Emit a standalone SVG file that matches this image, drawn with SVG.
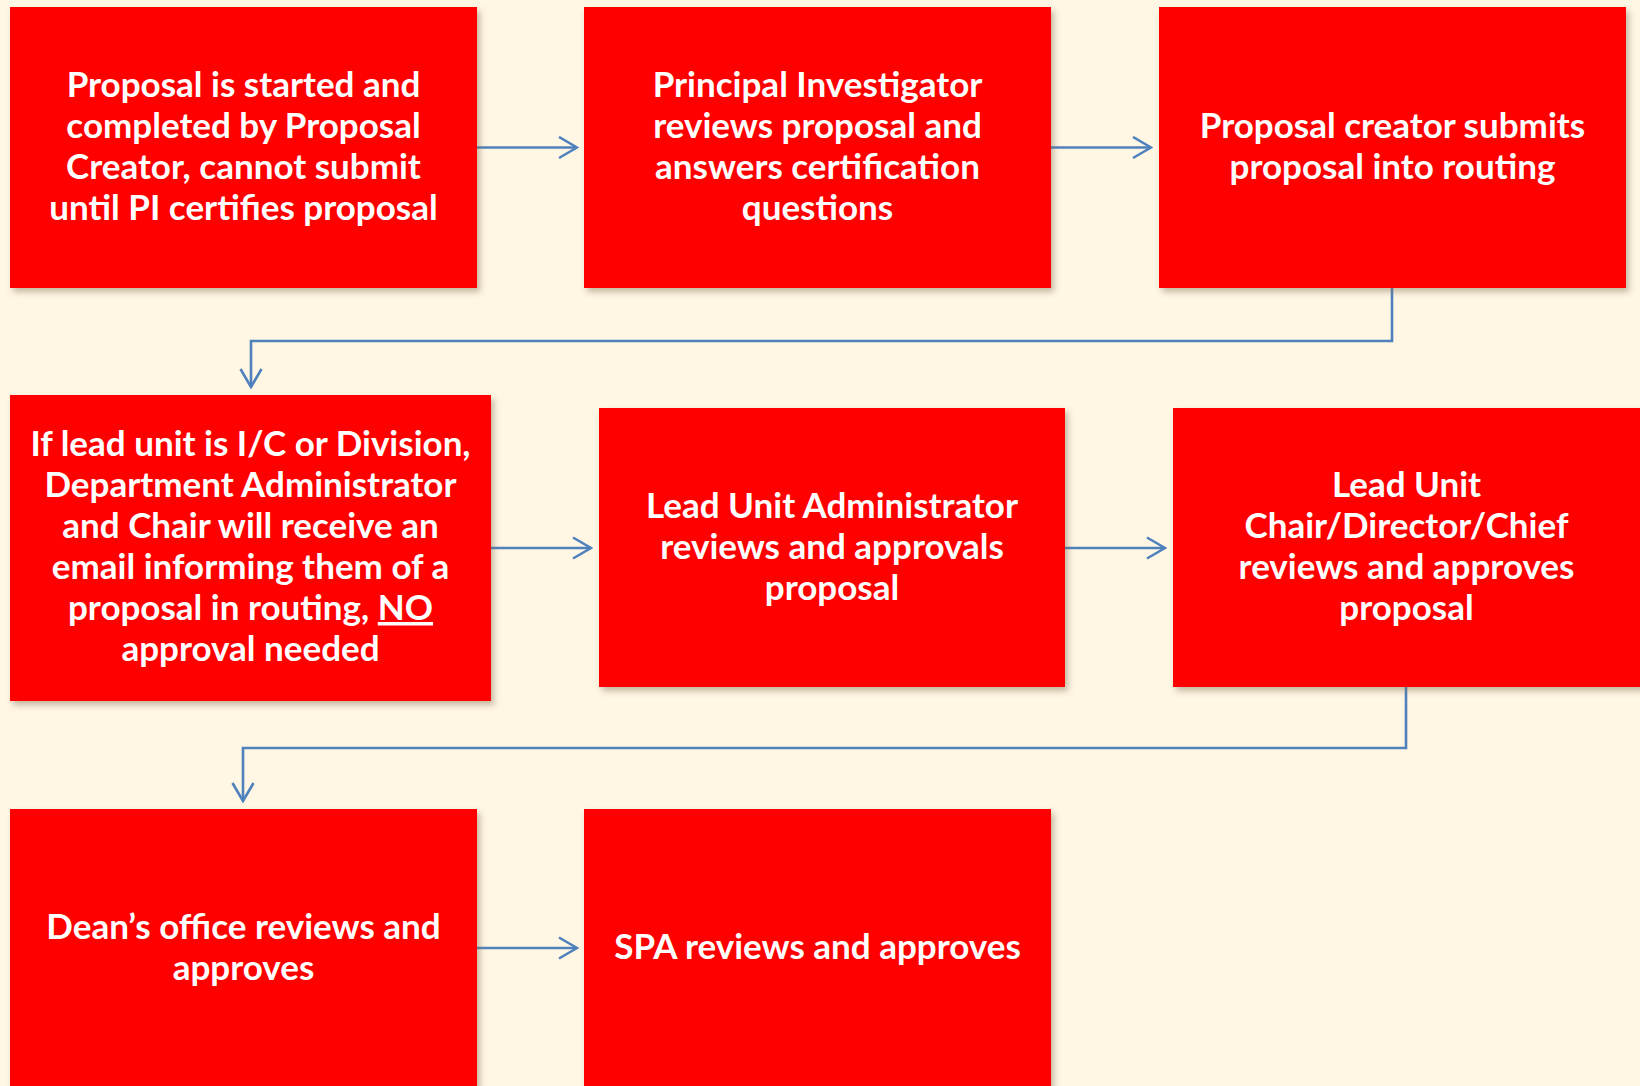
<svg xmlns="http://www.w3.org/2000/svg" width="1640" height="1086" viewBox="0 0 1640 1086">
<defs>
<filter id="sh" x="-5%" y="-5%" width="115%" height="120%">
<feDropShadow dx="3" dy="4" stdDeviation="3" flood-color="#7a6a50" flood-opacity="0.45"/>
</filter>
<marker id="ah" viewBox="0 0 22 24" refX="20" refY="12" markerWidth="22" markerHeight="24" markerUnits="userSpaceOnUse" orient="auto">
<path d="M2,1.5 L20,12 L2,22.5" fill="none" stroke="#4F81BD" stroke-width="2.6" stroke-linejoin="miter"/>
</marker>
</defs>
<style>
.box{fill:#FF0000;filter:url(#sh);}
.t{font-family:Lato,"Open Sans","Liberation Sans",sans-serif;font-weight:bold;font-size:35px;fill:#FFFFFF;text-anchor:middle;}
.c{fill:none;stroke:#4F81BD;stroke-width:2.6;marker-end:url(#ah);}
</style>
<rect width="1640" height="1086" fill="#FFF6E4"/>
<g id="connectors">
<path class="c" d="M477,147.5 H577"/>
<path class="c" d="M1051,147.5 H1151"/>
<path class="c" d="M1392,288 V341 H251 V387"/>
<path class="c" d="M491,548 H591"/>
<path class="c" d="M1065,548 H1165"/>
<path class="c" d="M1406,687 V748 H243 V801"/>
<path class="c" d="M477,948 H577"/>
</g>
<g id="n1">
<rect class="box" x="10" y="7" width="467" height="281"/>
<text class="t"><tspan x="243.5" y="97">Proposal is started and</tspan><tspan x="243.5" y="138">completed by Proposal</tspan><tspan x="243.5" y="179">Creator, cannot submit</tspan><tspan x="243.5" y="220">until PI certifies proposal</tspan></text>
</g>
<g id="n2">
<rect class="box" x="584" y="7" width="467" height="281"/>
<text class="t"><tspan x="817.5" y="97">Principal Investigator</tspan><tspan x="817.5" y="138">reviews proposal and</tspan><tspan x="817.5" y="179">answers certification</tspan><tspan x="817.5" y="220">questions</tspan></text>
</g>
<g id="n3">
<rect class="box" x="1159" y="7" width="467" height="281"/>
<text class="t"><tspan x="1392.5" y="138">Proposal creator submits</tspan><tspan x="1392.5" y="179">proposal into routing</tspan></text>
</g>
<g id="n4">
<rect class="box" x="10" y="395" width="481" height="306"/>
<text class="t"><tspan x="250.5" y="456">If lead unit is I/C or Division,</tspan><tspan x="250.5" y="497">Department Administrator</tspan><tspan x="250.5" y="538">and Chair will receive an</tspan><tspan x="250.5" y="579">email informing them of a</tspan><tspan x="250.5" y="620">proposal in routing, <tspan text-decoration="underline">NO</tspan></tspan><tspan x="250.5" y="661">approval needed</tspan></text>
</g>
<g id="n5">
<rect class="box" x="599" y="408" width="466" height="279"/>
<text class="t"><tspan x="832" y="518">Lead Unit Administrator</tspan><tspan x="832" y="559">reviews and approvals</tspan><tspan x="832" y="600">proposal</tspan></text>
</g>
<g id="n6">
<rect class="box" x="1173" y="408" width="470" height="279"/>
<text class="t"><tspan x="1406.5" y="497">Lead Unit</tspan><tspan x="1406.5" y="538">Chair/Director/Chief</tspan><tspan x="1406.5" y="579">reviews and approves</tspan><tspan x="1406.5" y="620">proposal</tspan></text>
</g>
<g id="n7">
<rect class="box" x="10" y="809" width="467" height="290"/>
<text class="t"><tspan x="243.5" y="939">Dean’s office reviews and</tspan><tspan x="243.5" y="980">approves</tspan></text>
</g>
<g id="n8">
<rect class="box" x="584" y="809" width="467" height="290"/>
<text class="t"><tspan x="817.5" y="959">SPA reviews and approves</tspan></text>
</g>
</svg>
